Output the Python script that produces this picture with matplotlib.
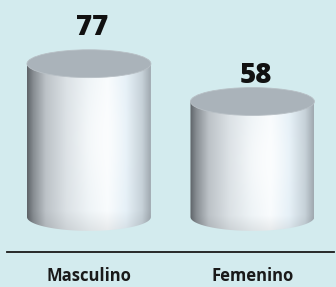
import numpy as np
import matplotlib
matplotlib.use('Agg')
import matplotlib.pyplot as plt
from matplotlib.patches import Ellipse, PathPatch
from matplotlib.path import Path
from matplotlib.colors import to_rgb

categories = ['Masculino', 'Femenino']
values = [77, 58]

BG = '#d3ebee'
fig = plt.figure(figsize=(3.36, 2.87), dpi=100, facecolor=BG)
ax = fig.add_axes([0, 0, 1, 1])
ax.set_facecolor(BG)
ax.axis('off')

half_w = 0.379
b = 7.0
label_pad = [18.0, 13.2]

# horizontal gradient stops
stops = [(0.0, '#5e6368'), (0.05, '#878d92'), (0.15, '#bcc2c7'), (0.32, '#dbe1e5'),
         (0.5, '#edf3f6'), (0.65, '#f8fbfd'), (0.8, '#e5f0f7'), (0.93, '#c6d1d8'),
         (1.0, '#a0a9b0')]
ts = np.array([s[0] for s in stops])
cols = np.array([to_rgb(s[1]) for s in stops])
W, H = 240, 240
t = np.linspace(0, 1, W)
row = np.stack([np.interp(t, ts, cols[:, k]) for k in range(3)], axis=-1)
vv = np.linspace(0, 1, H)[:, None]
tt = t[None, :]
glow = 0.5 * np.exp(-(((tt - 0.6) / 0.18) ** 2 + ((vv - 0.55) / 0.35) ** 2))
img = row[None, :, :] * (1 - glow[..., None]) + glow[..., None] * 1.0
shade = 1 - 0.07 * np.clip(1 - vv / 0.12, 0, 1)  # slightly darker at very bottom
img = np.clip(img * shade[..., None], 0, 1)

for i, (cat, v) in enumerate(zip(categories, values)):
    x = i
    theta = np.linspace(0, np.pi, 80)
    ex = x + half_w * np.cos(theta)
    ey = -b * np.sin(theta)
    verts = [(x - half_w, v), (x + half_w, v)] + list(zip(ex, ey)) + [(x - half_w, v)]
    patch = PathPatch(Path(verts, closed=True), facecolor='none', edgecolor='none')
    ax.add_patch(patch)
    im = ax.imshow(img, extent=[x - half_w, x + half_w, -b, v], aspect='auto',
                   origin='lower', zorder=2, interpolation='bilinear')
    im.set_clip_path(patch)
    top = Ellipse((x, v), 2 * half_w, 2 * b, facecolor='#aab3ba',
                  edgecolor='#b8c0c6', lw=0.6, zorder=3)
    ax.add_patch(top)
    ax.text(x + 0.02, v + label_pad[i], str(v), ha='center', va='center',
            fontsize=20, fontweight='heavy', family='Open Sans', color='#111111', zorder=4)
    ax.text(x, -29.6, cat, ha='center', va='center', fontsize=12,
            fontweight='bold', family='Open Sans', color='#1a1a1a', zorder=4)

ax.set_xlim(-0.544, 1.511)
ax.set_ylim(-35.2, 109)
ax.axhline(-17.6, xmin=7 / 336, xmax=334 / 336, color='#1a1a1a', lw=1.3, zorder=1)

fig.savefig('out.png', dpi=100, facecolor=BG)
